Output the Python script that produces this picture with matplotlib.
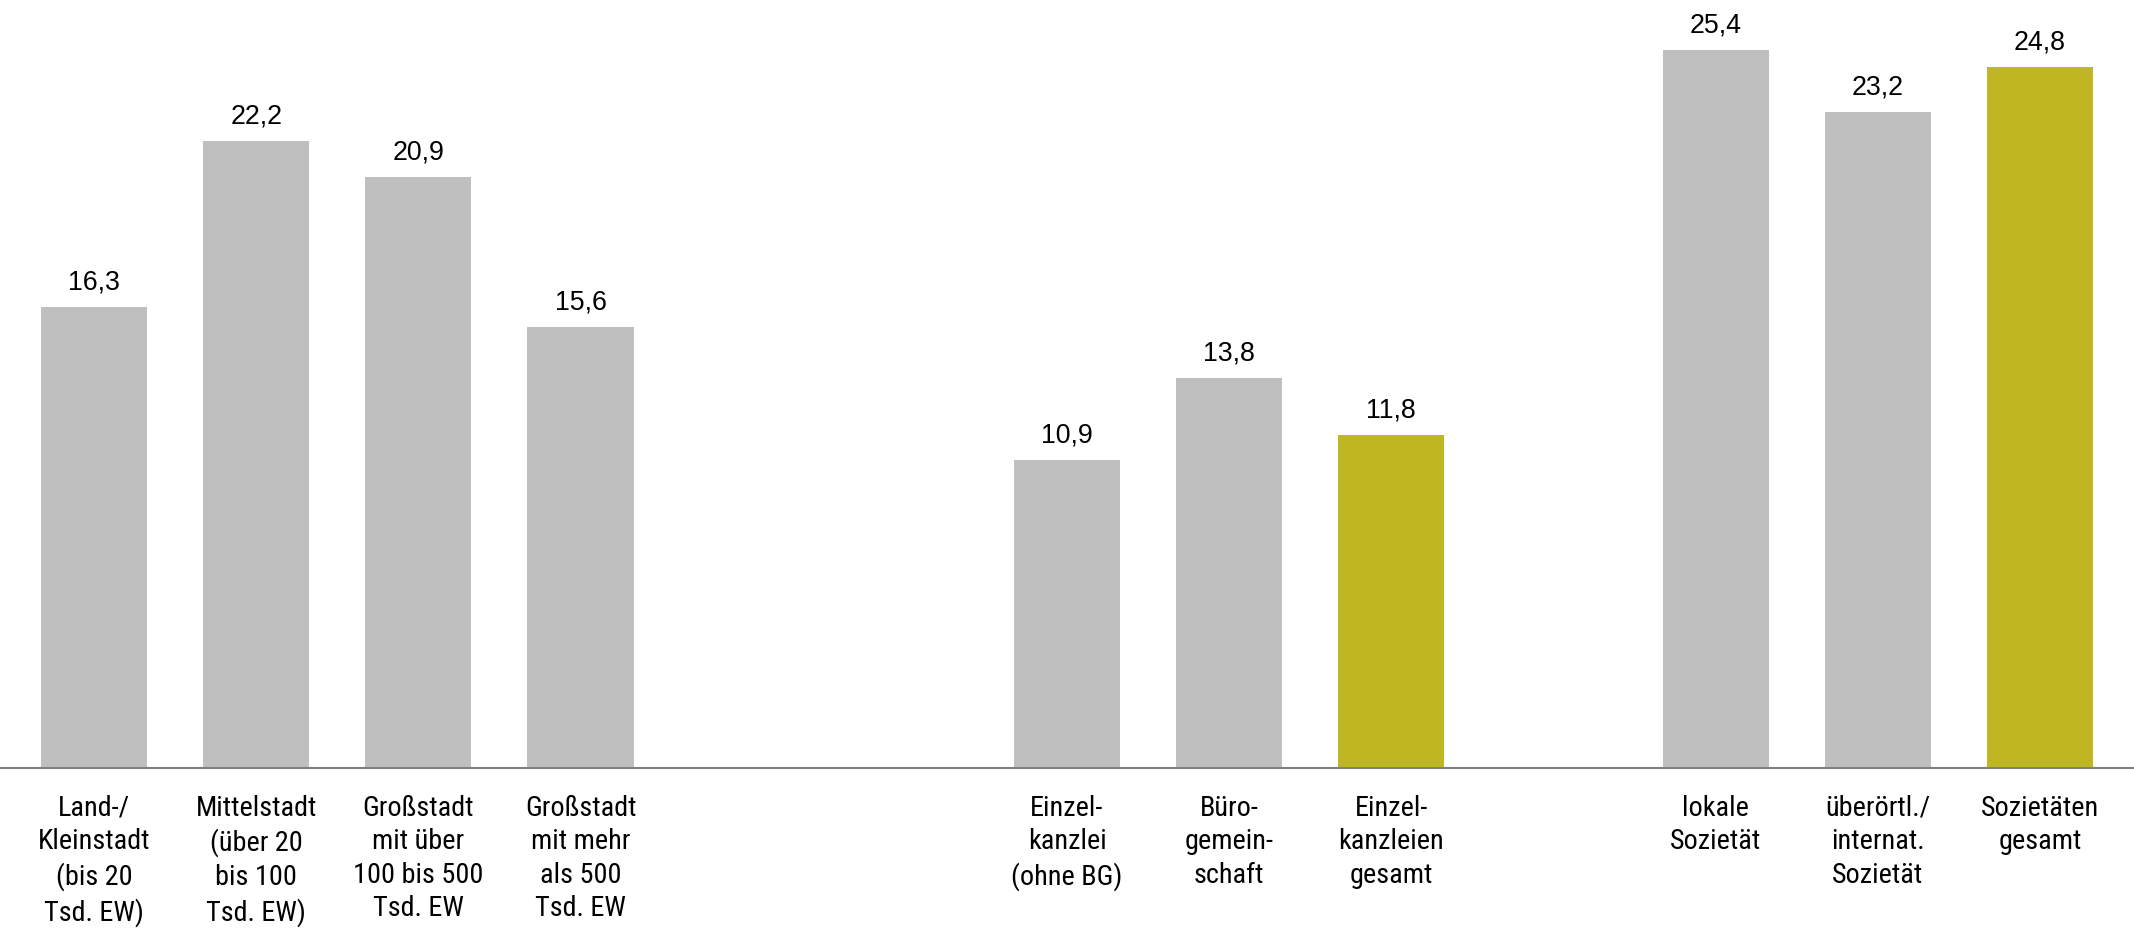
import numpy as np
import matplotlib
matplotlib.use("Agg")
import matplotlib.pyplot as plt

# slots on the x axis, empty slots separate the three groups
slots = [0, 1, 2, 3, 6, 7, 8, 10, 11, 12]
labels = [
    "Land-/\nKleinstadt\n(bis 20\nTsd. EW)",
    "Mittelstadt\n(über 20\nbis 100\nTsd. EW)",
    "Großstadt\nmit über\n100 bis 500\nTsd. EW",
    "Großstadt\nmit mehr\nals 500\nTsd. EW",
    "Einzel-\nkanzlei\n(ohne BG)",
    "Büro-\ngemein-\nschaft",
    "Einzel-\nkanzleien\ngesamt",
    "lokale\nSozietät",
    "überörtl./\ninternat.\nSozietät",
    "Sozietäten\ngesamt",
]
values = [16.3, 22.2, 20.9, 15.6, 10.9, 13.8, 11.8, 25.4, 23.2, 24.8]
highlight = [False, False, False, False, False, False, True, False, False, True]

grey = "#bfbfbf"
olive = "#bfb722"
colors = [olive if h else grey for h in highlight]

fig = plt.figure(figsize=(21.34, 9.3), dpi=100)
ax = fig.add_axes([0, 0.174, 1, 0.826])

ax.bar(slots, values, width=0.655, color=colors)
ax.set_xlim(-0.58, 12.58)
ax.set_ylim(0, 27.17)

for x, v in zip(slots, values):
    ax.annotate(f"{v:.1f}".replace(".", ","), (x, v), xytext=(0, 12.5),
                textcoords="offset points", ha="center", va="baseline",
                fontsize=19.3, family=["Liberation Sans", "DejaVu Sans"])

for x, lab in zip(slots, labels):
    ax.annotate(lab, (x, 0), xytext=(0, -19), textcoords="offset points",
                ha="center", va="top", fontsize=20.3, linespacing=1.31,
                family=["Liberation Sans Narrow", "Roboto Condensed",
                        "Liberation Sans", "DejaVu Sans"])

for s in ["top", "right", "left"]:
    ax.spines[s].set_visible(False)
ax.spines["bottom"].set_color("#808080")
ax.spines["bottom"].set_linewidth(1.5)
ax.set_xticks([])
ax.set_yticks([])

fig.savefig("out.png", dpi=100)
